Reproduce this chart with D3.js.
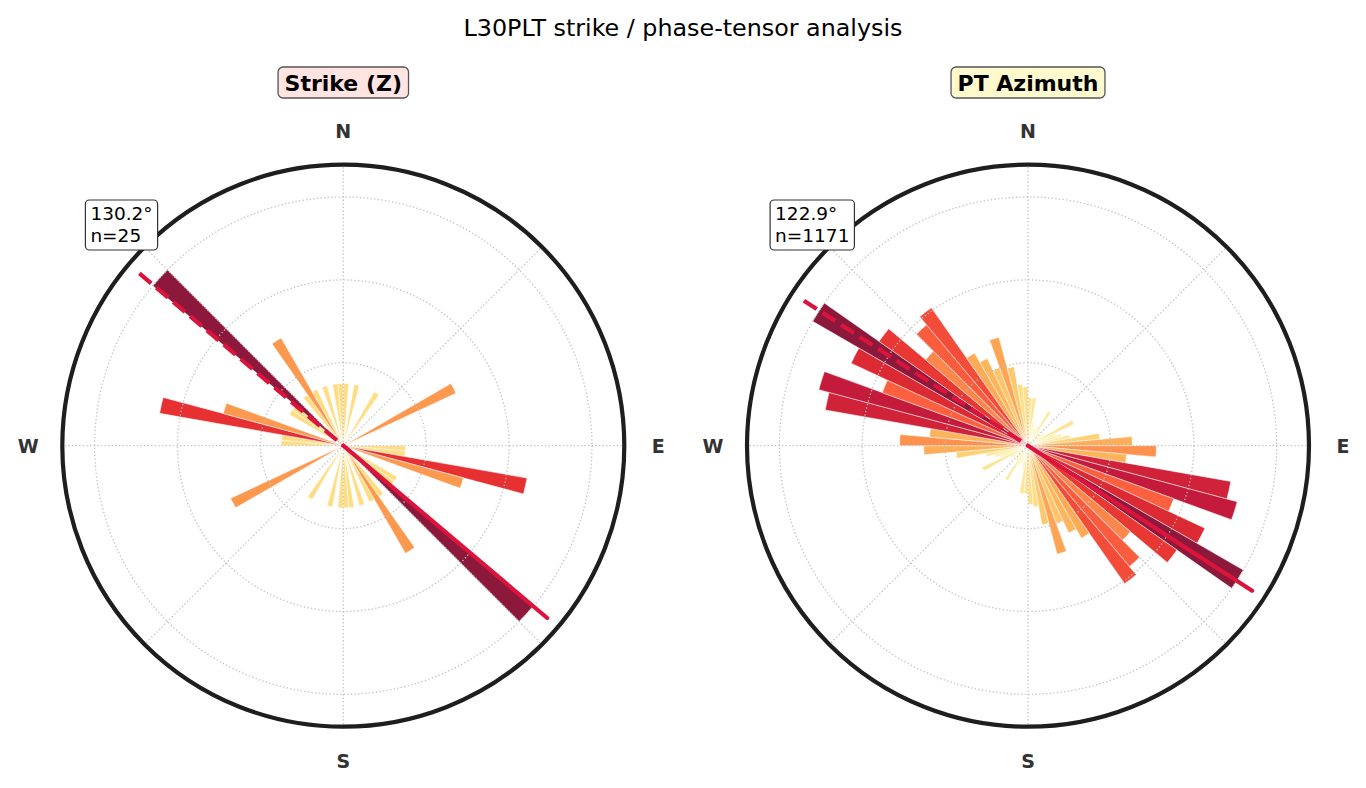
<!DOCTYPE html>
<html>
<head>
<meta charset="utf-8">
<script src="https://cdn.jsdelivr.net/npm/d3@7"></script>
<style>
  html, body { margin: 0; padding: 0; background: #ffffff; }
  svg { display: block; font-family: "DejaVu Sans", "Liberation Sans", sans-serif; }
</style>
</head>
<body>
<svg id="chart" width="1366" height="788"></svg>
<script>
// ---------------- DATA ----------------
// 5-degree bin starts (compass degrees, clockwise from North) for the 0-180 half;
// the rose is axial, so every bin is mirrored at +180.
const binStarts = [0,5,10,15,20,25,30,35,40,45,50,55,60,65,70,75,80,85,
                   90,95,100,105,110,115,120,125,130,135,140,145,150,155,160,165,170,175];
const binWidth = 5;

// Strike (Z): counts per bin (n = 25)
const strikeCounts = [1,0,1,0,0,0,1,0,0,0,0,0,2,0,0,0,0,0,
                      1,1,3,2,0,0,1,1,4,0,1,2,1,0,1,0,1,1];
// PT azimuth: counts per bin (n = 1171)
const ptCounts = [18,18,9,7,7,8,15,7,6,5,7,8,19,11,13,16,27,39,
                  48,37,77,81,58,73,93,68,50,59,63,40,36,31,42,30,23,22];

const panelTitles = ["Strike (Z)", "PT Azimuth"];
const meanAngles = [130.2, 122.9];
const sampleSizes = [25, 1171];
const cardinalLabels = ["N", "E", "S", "W"];
const cardinalAngles = [0, 90, 180, 270];
const gridAngles = [0, 45, 90, 135, 180, 225, 270, 315];
const suptitle = "L30PLT strike / phase-tensor analysis";

// matplotlib YlOrRd anchor colours
const ylorrd = ["#ffffcc","#ffeda0","#fed976","#feb24c","#fd8d3c","#fc4e2a","#e31a1c","#bd0026","#800026"];

// ---------------- LAYOUT ----------------
const svg = d3.select("#chart");
const R = 281;
const centers = [[343.3, 445.7], [1028, 445.7]];
const titleFills = ["#ffe4e1", "#fffacd"];
const rad = d => d * Math.PI / 180;

svg.append("text")
  .attr("x", 683).attr("y", 36)
  .attr("text-anchor", "middle")
  .attr("font-size", 23.8)
  .attr("fill", "#000")
  .text(suptitle);

const cmap = d3.scaleLinear()
  .domain(ylorrd.map((_, i) => i / (ylorrd.length - 1)))
  .range(ylorrd)
  .interpolate(d3.interpolateRgb)
  .clamp(true);

function drawPanel(p, counts) {
  const [cx, cy] = centers[p];
  const g = svg.append("g").attr("transform", `translate(${cx},${cy})`);
  const maxC = d3.max(counts);
  const rmax = maxC * 1.13;
  const r = d3.scaleLinear().domain([0, rmax]).range([0, R]);

  // bars (axial: bin and bin+180)
  const bars = [];
  [0, 180].forEach(off => {
    counts.forEach((c, i) => {
      if (c > 0) bars.push({ start: binStarts[i] + off, c });
    });
  });
  const arc = d3.arc();
  g.append("g").selectAll("path").data(bars).join("path")
    .attr("d", d => arc({ innerRadius: 0, outerRadius: r(d.c),
                          startAngle: rad(d.start), endAngle: rad(d.start + binWidth) }))
    .attr("fill", d => cmap(d.c / maxC))
    .attr("fill-opacity", 0.9)
    .attr("stroke", "#ffffff")
    .attr("stroke-width", 0.5);

  // grid
  const grid = g.append("g")
    .attr("fill", "none")
    .attr("stroke", "#c0c0c0")
    .attr("stroke-width", 1.3)
    .attr("stroke-dasharray", "1.3,2.3");
  grid.selectAll("circle").data([maxC / 3, 2 * maxC / 3, maxC]).join("circle")
    .attr("r", d => r(d));
  grid.selectAll("line").data(gridAngles).join("line")
    .attr("x1", 0).attr("y1", 0)
    .attr("x2", d => r(rmax) * Math.sin(rad(d)))
    .attr("y2", d => -r(rmax) * Math.cos(rad(d)));

  // mean direction lines
  const m = meanAngles[p];
  const L = r(rmax * 0.95);
  g.append("line")
    .attr("x1", 0).attr("y1", 0)
    .attr("x2", L * Math.sin(rad(m))).attr("y2", -L * Math.cos(rad(m)))
    .attr("stroke", "#dc143c").attr("stroke-width", 4.2)
    .attr("stroke-linecap", "round");
  g.append("line")
    .attr("x1", L * Math.sin(rad(m + 180))).attr("y1", -L * Math.cos(rad(m + 180)))
    .attr("x2", 0).attr("y2", 0)
    .attr("stroke", "#dc143c").attr("stroke-width", 4.2)
    .attr("stroke-dasharray", "15.4,6.7");

  // outer spine
  g.append("circle").attr("r", r(rmax))
    .attr("fill", "none").attr("stroke", "#1e1e1e").attr("stroke-width", 4.2);

  // cardinal labels
  const LR = 315;
  g.append("g").selectAll("text").data(cardinalLabels).join("text")
    .attr("x", (d, i) => LR * Math.sin(rad(cardinalAngles[i])))
    .attr("y", (d, i) => -LR * Math.cos(rad(cardinalAngles[i])))
    .attr("dy", "0.36em")
    .attr("text-anchor", "middle")
    .attr("font-size", 19)
    .attr("font-weight", "bold")
    .attr("fill", "#333333")
    .text(d => d);

  // title with box
  const tg = svg.append("g");
  const tt = tg.append("text")
    .attr("x", cx).attr("y", 90.5)
    .attr("text-anchor", "middle")
    .attr("font-size", 22)
    .attr("font-weight", "bold")
    .attr("fill", "#000")
    .text(panelTitles[p]);
  const tb = tt.node().getBBox();
  tg.insert("rect", "text")
    .attr("x", tb.x - 6.5).attr("y", 67)
    .attr("width", tb.width + 13).attr("height", 31)
    .attr("rx", 5).attr("ry", 5)
    .attr("fill", titleFills[p])
    .attr("stroke", "#555555").attr("stroke-width", 1.3);

  // annotation box
  const ag = svg.append("g");
  const ax0 = cx - R + 0.05 * 2 * R;
  const at = ag.append("text")
    .attr("font-size", 18.5)
    .attr("fill", "#000");
  at.append("tspan").attr("x", ax0).attr("y", 219.5).text(m.toFixed(1) + "°");
  at.append("tspan").attr("x", ax0).attr("y", 241.5).text("n=" + sampleSizes[p]);
  const ab = at.node().getBBox();
  ag.insert("rect", "text")
    .attr("x", ab.x - 5).attr("y", 200)
    .attr("width", ab.width + 10).attr("height", 50)
    .attr("rx", 4).attr("ry", 4)
    .attr("fill", "#ffffff")
    .attr("stroke", "#333333").attr("stroke-width", 1.2);
}

drawPanel(0, strikeCounts);
drawPanel(1, ptCounts);
</script>
</body>
</html>
